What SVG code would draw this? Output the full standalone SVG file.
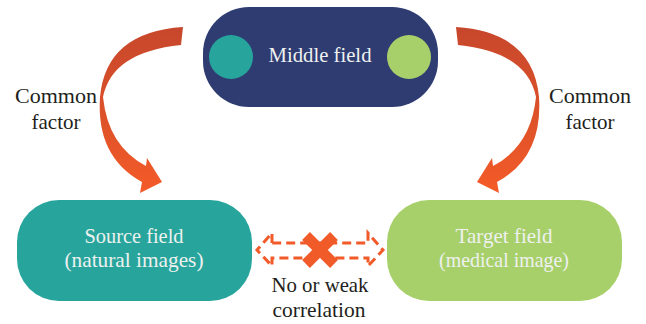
<svg xmlns="http://www.w3.org/2000/svg" width="646" height="324" viewBox="0 0 646 324">
<defs>
<linearGradient id="ag" x1="0" y1="27" x2="0" y2="193" gradientUnits="userSpaceOnUse">
<stop offset="0" stop-color="#C7472C"/>
<stop offset="0.45" stop-color="#D9502A"/>
<stop offset="1" stop-color="#F45B28"/>
</linearGradient>
<path id="carrow" d="M 183 27 Q 106 32 100 97 Q 96 157 142 182 L 140 193 L 162 182 L 147 158 L 146 166 Q 108 146 103 97 Q 112 52 181 45 Z"/>
</defs>
<style>
.lbl{fill:#231F20}
.ntx{fill:#EEF1EF}
.arc{fill:url(#ag)}
.dash{fill:none;stroke:#F15A29;stroke-width:3;stroke-dasharray:9 5}
</style>
<rect width="646" height="324" fill="#FFFFFF"/>
<g id="connectors">
<g id="arrow-left"><use href="#carrow" class="arc"/></g>
<g id="arrow-right"><use href="#carrow" class="arc" transform="translate(639,0) scale(-1,1)"/></g>
<g id="no-correlation">
<path class="dash" d="M 272 243 L 272 233 L 257 250 L 272 266 L 272 258 L 368 258 L 368 266 L 383 250 L 368 233 L 368 243 Z"/>
<path d="M 306 236 L 334 264 M 334 236 L 306 264" stroke="#F15A29" stroke-width="11" fill="none"/>
</g>
</g>
<g font-family="Liberation Serif" font-size="21" text-anchor="middle">
<g id="middle-field">
<rect x="203" y="7" width="235" height="100" rx="46" fill="#2E3C72"/>
<circle cx="231" cy="57" r="22" fill="#27A59C"/>
<circle cx="409" cy="57" r="22" fill="#A8D06A"/>
<text class="ntx" x="320" y="62" textLength="103" lengthAdjust="spacingAndGlyphs">Middle field</text>
</g>
<g id="source-field">
<rect x="17" y="200" width="235" height="101" rx="42" fill="#27A59C"/>
<text class="ntx" x="134" y="243" textLength="99" lengthAdjust="spacingAndGlyphs">Source field</text>
<text class="ntx" x="134" y="267" textLength="139" lengthAdjust="spacingAndGlyphs">(natural images)</text>
</g>
<g id="target-field">
<rect x="387" y="200" width="235" height="101" rx="42" fill="#A8D06A"/>
<text class="ntx" x="504" y="243" textLength="97" lengthAdjust="spacingAndGlyphs">Target field</text>
<text class="ntx" x="504" y="267" textLength="130" lengthAdjust="spacingAndGlyphs">(medical image)</text>
</g>
<g id="labels">
<text class="lbl" x="56" y="103" textLength="82" lengthAdjust="spacingAndGlyphs">Common</text>
<text class="lbl" x="56" y="129" textLength="49" lengthAdjust="spacingAndGlyphs">factor</text>
<text class="lbl" x="590" y="103" textLength="82" lengthAdjust="spacingAndGlyphs">Common</text>
<text class="lbl" x="590" y="129" textLength="49" lengthAdjust="spacingAndGlyphs">factor</text>
<text class="lbl" x="320" y="292" textLength="97" lengthAdjust="spacingAndGlyphs">No or weak</text>
<text class="lbl" x="319" y="317" textLength="93" lengthAdjust="spacingAndGlyphs">correlation</text>
</g>
</g>
</svg>
